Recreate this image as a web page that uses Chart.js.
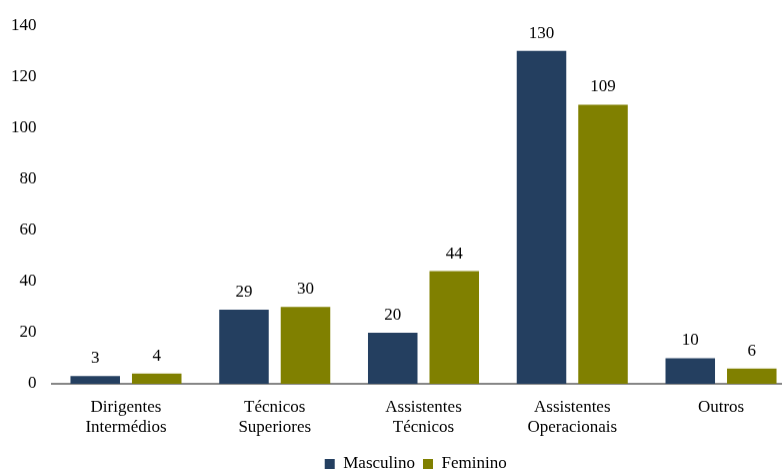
<!DOCTYPE html>
<html>
<head>
<meta charset="utf-8">
<script src="https://cdn.jsdelivr.net/npm/chart.js@4/dist/chart.umd.min.js"></script>
<style>
  html, body { margin: 0; padding: 0; overflow: hidden; background: #fff; }
  #wrap { width: 782px; height: 469px; overflow: hidden; }
  #box { width: 800px; height: 481.5px; }
</style>
</head>
<body>
<div id="wrap"><div id="box"><canvas id="myChart"></canvas></div></div>
<script>
const categorias = [
  ['Dirigentes', 'Intermédios'],
  ['Técnicos', 'Superiores'],
  ['Assistentes', 'Técnicos'],
  ['Assistentes', 'Operacionais'],
  'Outros'
];
const masculino = [3, 29, 20, 130, 10];
const feminino = [4, 30, 44, 109, 6];
const yTicks = [0, 20, 40, 60, 80, 100, 120, 140];

const serif = "'Liberation Serif', 'Times New Roman', serif";

// valores por cima das barras
const valueLabels = {
  id: 'valueLabels',
  afterDatasetsDraw(chart) {
    const ctx = chart.ctx;
    ctx.save();
    ctx.font = '17px ' + serif;
    ctx.fillStyle = '#000';
    ctx.textAlign = 'center';
    ctx.textBaseline = 'alphabetic';
    chart.data.datasets.forEach((ds, i) => {
      chart.getDatasetMeta(i).data.forEach((bar, j) => {
        ctx.fillText(ds.data[j], bar.x, bar.y - 13);
      });
    });
    ctx.restore();
  }
};

// empurra a legenda um pouco para a direita
const shiftLegend = {
  id: 'shiftLegend',
  afterLayout(chart) {
    chart.legend.left += 18;
    chart.legend.right += 18;
  }
};

let ctx = document.getElementById('myChart').getContext('2d');

const grafico = new Chart(ctx, {
  type: 'bar',
  data: {
    labels: categorias,
    datasets: [{
      label: 'Masculino',
      data: masculino,
      backgroundColor: '#243F60'
    }, {
      label: 'Feminino',
      data: feminino,
      backgroundColor: '#808000'
    }]
  },
  options: {
    responsive: true,
    maintainAspectRatio: false,
    animation: false,
    categoryPercentage: 0.827,
    barPercentage: 0.805,
    layout: { padding: { top: 23, right: 4.6, left: 0, bottom: 0 } },
    plugins: {
      tooltip: { enabled: false },
      legend: {
        position: 'bottom',
        labels: {
          boxWidth: 10,
          boxHeight: 10,
          padding: 8,
          color: '#000',
          font: { family: serif, size: 17 }
        }
      }
    },
    scales: {
      x: {
        grid: { display: false, drawTicks: false },
        border: { display: true, color: '#868686', width: 2 },
        ticks: { color: '#000', padding: 13, font: { family: serif, size: 17, lineHeight: 1.2 } },
        afterFit(scale) { scale.height = 63.5; }
      },
      y: {
        min: 0,
        max: 140,
        grid: { display: false, drawTicks: false },
        border: { display: false },
        ticks: {
          stepSize: 20,
          padding: 15,
          color: '#000',
          font: { family: serif, size: 17 }
        },
        afterBuildTicks(scale) { scale.ticks = yTicks.map(v => ({ value: v })); },
        afterFit(scale) { scale.width = 51.6; }
      }
    }
  },
  plugins: [valueLabels, shiftLegend]
});
</script>
</body>
</html>
